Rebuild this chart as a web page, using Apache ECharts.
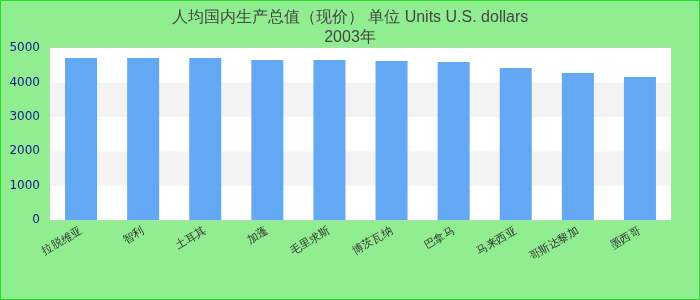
<!DOCTYPE html>
<html>
<head>
<meta charset="utf-8">
<script src="https://cdn.jsdelivr.net/npm/echarts@6/dist/echarts.min.js"></script>
<style>
html,body{margin:0;padding:0;background:#90ee90;}
#chart{width:700px;height:300px;}
</style>
</head>
<body>
<div id="chart"></div>
<script>
var titleText = '人均国内生产总值（现价） 单位 Units U.S. dollars';
var subTitleText = '2003年';
var categories = ['拉脱维亚', '智利', '土耳其', '加蓬', '毛里求斯', '博茨瓦纳', '巴拿马', '马来西亚', '哥斯达黎加', '墨西哥'];
var values = [4709, 4709, 4709, 4651, 4651, 4622, 4593, 4419, 4273, 4157];
var yTicks = [0, 1000, 2000, 3000, 4000, 5000];

var chart = echarts.init(document.getElementById('chart'), null, {renderer: 'canvas'});
chart.setOption({
  backgroundColor: '#90ee90',
  animation: false,
  graphic: [{
    type: 'rect',
    shape: {x: 0.5, y: 0.5, width: 699, height: 299},
    style: {fill: 'none', stroke: '#22dd22', lineWidth: 1},
    silent: true,
    z: 100
  }],
  title: {
    text: titleText + '\n' + subTitleText,
    left: 'center',
    top: 3,
    textStyle: {
      fontFamily: 'Liberation Sans, Arial, sans-serif',
      fontSize: 16,
      fontWeight: 'normal',
      color: '#464646',
      lineHeight: 20
    }
  },
  grid: {
    left: 50,
    right: 29,
    top: 48,
    bottom: 80,
    show: true,
    backgroundColor: '#ffffff',
    borderColor: '#cccccc',
    borderWidth: 1,
    containLabel: false
  },
  xAxis: {
    type: 'category',
    data: categories,
    axisLine: {show: false},
    axisTick: {show: false},
    axisLabel: {
      rotate: 30,
      color: '#333',
      fontSize: 11,
      margin: 10,
      interval: 0,
      fontFamily: 'Liberation Sans, Arial, sans-serif'
    }
  },
  yAxis: {
    type: 'value',
    min: yTicks[0],
    max: yTicks[yTicks.length - 1],
    interval: 1000,
    axisLine: {show: false},
    axisTick: {show: false},
    splitLine: {show: false},
    splitArea: {show: true, areaStyle: {color: ['#ffffff', '#f3f3f3']}},
    axisLabel: {
      color: '#1a1a8c',
      fontSize: 12,
      margin: 10,
      fontFamily: 'DejaVu Sans, sans-serif',
      formatter: function (v) { return String(v); }
    }
  },
  series: [{
    type: 'bar',
    data: values,
    barWidth: 32,
    itemStyle: {color: '#62a8f4'}
  }]
});
</script>
</body>
</html>
